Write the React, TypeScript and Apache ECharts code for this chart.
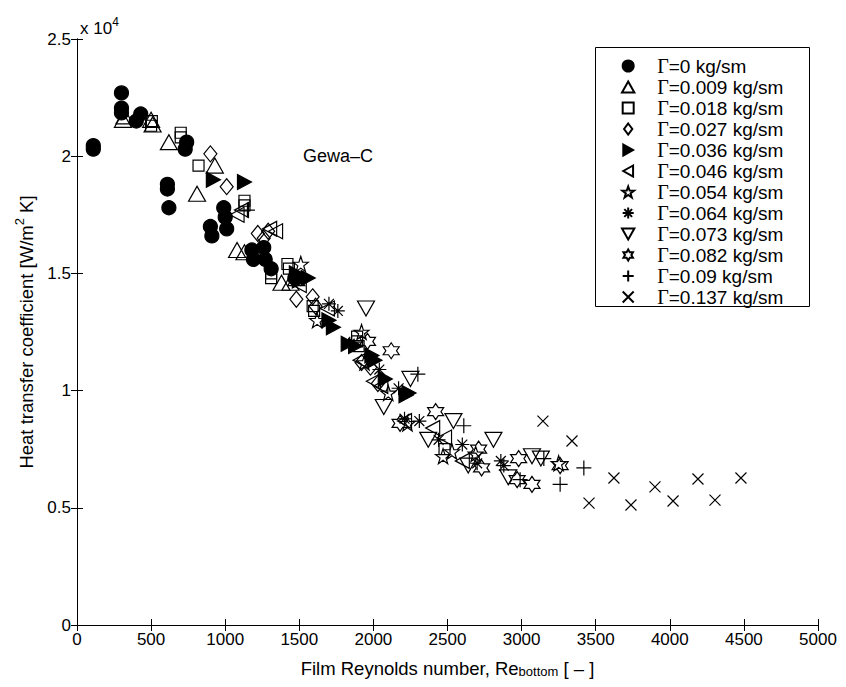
import React, { useEffect, useRef } from "react";
import * as echarts from "echarts";

const seriesNames = [
  "Γ=0 kg/sm", "Γ=0.009 kg/sm", "Γ=0.018 kg/sm", "Γ=0.027 kg/sm",
  "Γ=0.036 kg/sm", "Γ=0.046 kg/sm", "Γ=0.054 kg/sm", "Γ=0.064 kg/sm",
  "Γ=0.073 kg/sm", "Γ=0.082 kg/sm", "Γ=0.09 kg/sm", "Γ=0.137 kg/sm",
];

const g0 = [[110,20300],[110,20450],[300,22700],[300,22050],[300,21850],[430,21800],[400,21500],[740,20600],[730,20300],[610,18800],[610,18600],[620,17800],[900,17000],[910,16600],[990,17800],[1000,17400],[1010,16900],[1180,16000],[1190,15600],[1260,16100],[1270,15600],[1310,15200],[1470,14800]];
const g009 = [[320,21700],[310,21550],[500,21550],[510,21350],[620,20600],[930,19600],[810,18400],[1080,16000],[1130,15900],[1380,14600],[1440,14600],[1480,14800]];
const g018 = [[500,21300],[505,21500],[700,21000],[700,20800],[820,19600],[1130,18100],[1130,17900],[1310,15000],[1310,14800],[1420,15400],[1430,15200],[1590,13600],[1600,13400],[1890,12300],[1890,12100],[1900,11900],[2480,7500]];
const g027 = [[900,20100],[1010,18700],[1220,16700],[1260,16500],[1290,16800],[1480,13900],[1590,14000],[1610,13600],[1920,11200],[1980,11000],[2030,10300]];
const g036 = [[920,19000],[1130,18900],[1480,15000],[1500,14700],[1560,14800],[1700,13000],[1730,12700],[1830,12000],[1880,11900],[1990,11500],[2010,11300],[2080,10500],[2240,9900],[2220,9800]];
const g046 = [[1080,17500],[1110,17700],[1300,16900],[1340,16800],[1500,14500],[1690,13500],[1910,11300],[2000,10400],[2050,10200],[2210,8700],[2400,8400],[2480,8000],[2600,7000]];
const g054 = [[1510,15400],[1620,13000],[1920,12500],[1940,11200],[2100,9900],[2230,8600],[2470,7200],[2530,7400],[2690,7300],[3250,6900]];
const g064 = [[1700,13700],[1760,13400],[1840,12000],[2040,10900],[2170,10100],[2210,8800],[2310,8700],[2440,7900],[2600,7700],[2700,6900],[2860,7000],[2880,6800]];
const g073 = [[1950,13500],[2070,9300],[2250,10500],[2370,7900],[2540,8700],[2640,6800],[2810,7900],[2910,6300],[3070,7200],[3130,7100]];
const g082 = [[1960,12100],[2120,11700],[2180,8600],[2420,9100],[2710,7500],[2730,6700],[2970,6200],[2980,7100],[3070,6000],[3260,6800]];
const g09 = [[1150,17700],[2300,10700],[2610,8500],[2990,6200],[3150,7100],[3260,6000],[3420,6700]];
const g137 = [[3144,8700],[3340,7850],[3455,5200],[3623,6270],[3738,5120],[3900,5890],[4022,5290],[4190,6230],[4305,5330],[4480,6270]];

const allData = [g0, g009, g018, g027, g036, g046, g054, g064, g073, g082, g09, g137];

const xTicks = { min: 0, max: 5000, interval: 500 };
const yTicks = { min: 0, max: 25000, interval: 5000 };

const SYM = {
  circle: "circle",
  up: "path://M0,-8 L9,8 L-9,8 Z",
  sq: "path://M-5,-5 L5,-5 L5,5 L-5,5 Z",
  dia: "path://M0,-8 L6,0 L0,8 L-6,0 Z",
  right: "path://M-8,-9 L8,0 L-8,9 Z",
  left: "path://M8,-9 L-8,0 L8,9 Z",
  star: "path://M0,-10 L2.35,-3.24 L9.51,-3.09 L3.8,1.24 L5.88,8.09 L0,4 L-5.88,8.09 L-3.8,1.24 L-9.51,-3.09 L-2.35,-3.24 Z",
  ast: "path://M0,-10 L0,10 M-10,0 L10,0 M-7.07,-7.07 L7.07,7.07 M-7.07,7.07 L7.07,-7.07",
  down: "path://M-9,-8 L9,-8 L0,8 Z",
  hex: "path://M0,-10 L2.887,-5 L8.66,-5 L5.774,0 L8.66,5 L2.887,5 L0,10 L-2.887,5 L-8.66,5 L-5.774,0 L-8.66,-5 L-2.887,-5 Z",
  plus: "path://M0,-10 L0,10 M-10,0 L10,0",
  cross: "path://M-10,-10 L10,10 M-10,10 L10,-10",
};

const markers: any[] = [
  { s: SYM.circle, size: 14, fill: "#000" },
  { s: SYM.up, size: [17, 15], fill: "transparent" },
  { s: SYM.sq, size: 11, fill: "transparent" },
  { s: SYM.dia, size: [13, 16], fill: "transparent" },
  { s: SYM.right, size: [14, 15], fill: "#000" },
  { s: SYM.left, size: [14, 15], fill: "transparent" },
  { s: SYM.star, size: 15, fill: "transparent" },
  { s: SYM.ast, size: 14, fill: "transparent" },
  { s: SYM.down, size: [17, 15], fill: "transparent" },
  { s: SYM.hex, size: 16, fill: "transparent" },
  { s: SYM.plus, size: 15, fill: "transparent" },
  { s: SYM.cross, size: 11, fill: "transparent" },
];

const FONT = "Arial, 'Liberation Sans', Helvetica, sans-serif";
const SERIF = "'Times New Roman', 'Liberation Serif', serif";

export default function App() {
  const ref = useRef<HTMLDivElement>(null);
  useEffect(() => {
    if (!ref.current) return;
    const chart = echarts.init(ref.current, null, { renderer: "svg" });
    const axisCommon = {
      type: "value",
      axisLine: { show: true, lineStyle: { color: "#000", width: 1 } },
      axisTick: { show: true, inside: true, length: 6, lineStyle: { color: "#000" } },
      splitLine: { show: false },
    };
    const series = seriesNames.map((name, i) => ({
      type: "scatter",
      name,
      data: allData[i],
      symbol: markers[i].s,
      symbolSize: markers[i].size,
      itemStyle: {
        color: markers[i].fill,
        borderColor: "#000",
        borderWidth: 1.2,
        opacity: 1,
      },
      emphasis: { disabled: true },
      xAxisIndex: 0,
      yAxisIndex: 0,
      z: 2 + i * 0.01,
    }));
    chart.setOption({
      animation: false,
      backgroundColor: "#fff",
      grid: { left: 77, right: 28, top: 39, bottom: 62, containLabel: false },
      xAxis: [
        {
          ...axisCommon,
          ...xTicks,
          position: "bottom",
          axisLabel: { color: "#000", fontSize: 17, fontFamily: FONT, margin: 6, formatter: (v: number) => String(v) },
          name: "{a|Film Reynolds number, Re}{s|bottom}{a| [ – ]}",
          nameLocation: "middle",
          nameGap: 24,
          nameTextStyle: {
            rich: {
              a: { fontSize: 18.5, fontFamily: FONT, color: "#000", lineHeight: 19, verticalAlign: "top" },
              s: { fontSize: 13, fontFamily: FONT, color: "#000", lineHeight: 13, padding: [12, 0, 0, 0], verticalAlign: "bottom" },
            },
          },
        },
        {
          ...axisCommon,
          ...xTicks,
          position: "top",
          axisLabel: { show: false },
        },
      ],
      yAxis: [
        {
          ...axisCommon,
          ...yTicks,
          position: "left",
          axisLabel: {
            color: "#000",
            fontSize: 17,
            fontFamily: FONT,
            margin: 6,
            formatter: (v: number) => String(v / 10000),
          },
          name: "{a|Heat transfer coefficient [W/m}{p|2}{a| K]}",
          nameLocation: "middle",
          nameGap: 32,
          nameTextStyle: {
            rich: {
              a: { fontSize: 18.5, fontFamily: FONT, color: "#000", verticalAlign: "bottom" },
              p: { fontSize: 13, fontFamily: FONT, color: "#000", padding: [0, 0, 10, 0], verticalAlign: "bottom" },
            },
          },
        },
        {
          ...axisCommon,
          ...yTicks,
          position: "right",
          axisLabel: { show: false },
        },
      ],
      legend: {
        orient: "vertical",
        left: 621,
        top: 56,
        itemWidth: 48,
        itemHeight: 11,
        itemGap: 1,
        padding: 0,
        symbolKeepAspect: true,
        selectedMode: false,
        data: seriesNames,
        formatter: (name: string) => `{g|Γ}{t|${name.slice(1)}}`,
        textStyle: {
          color: "#000",
          fontSize: 19,
          fontFamily: FONT,
          rich: {
            g: { fontSize: 20, fontFamily: SERIF, color: "#000" },
            t: { fontSize: 19, fontFamily: FONT, color: "#000" },
          },
        },
      },
      graphic: [
        {
          type: "rect",
          left: 595,
          top: 47,
          shape: { width: 214, height: 259 },
          style: { fill: "#fff", stroke: "#000", lineWidth: 1 },
          z: 3,
        },
        {
          type: "text",
          left: 303,
          top: 147,
          style: { text: "Gewa–C", fontSize: 18, fontFamily: FONT, fill: "#000" },
          z: 5,
        },
        {
          type: "text",
          left: 80,
          top: 16,
          style: {
            text: "{a|x 10}{p|4}",
            rich: {
              a: { fontSize: 17, fontFamily: FONT, fill: "#000", verticalAlign: "bottom" },
              p: { fontSize: 12, fontFamily: FONT, fill: "#000", padding: [0, 0, 9, 0], verticalAlign: "bottom" },
            },
          },
          z: 5,
        },
      ],
      series,
    });
    return () => chart.dispose();
  }, []);
  return (
    <div
      ref={ref}
      style={{ position: "fixed", left: 0, top: 0, width: 846, height: 687 }}
    />
  );
}
